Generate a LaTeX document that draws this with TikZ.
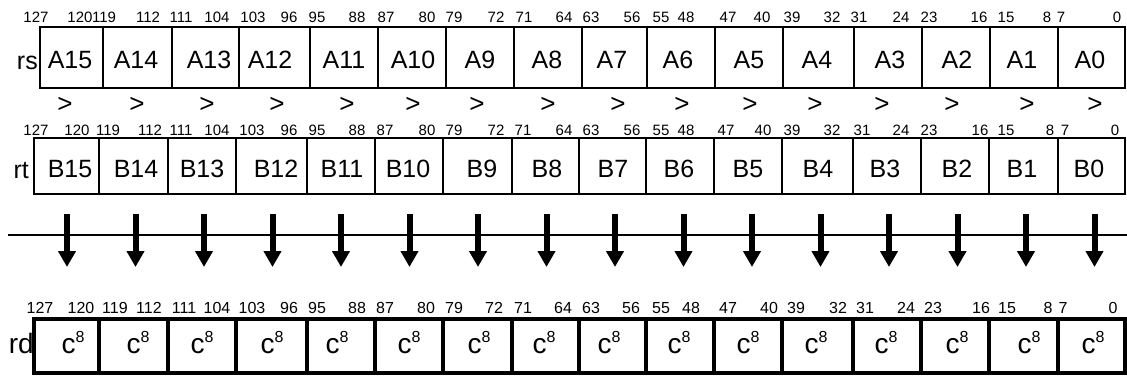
\documentclass[tikz,border=0pt]{standalone}
\usepackage{fontspec}
\setmainfont{Liberation Sans}
\usetikzlibrary{arrows.meta}
\begin{document}
\begin{tikzpicture}[x=1pt,y=-1pt,
  cell/.style={draw,line width=1.1pt,inner sep=0pt,outer sep=0pt},
  rdcell/.style={draw,line width=3.2pt,inner sep=0pt,outer sep=0pt},
  big/.style={font=\fontsize{25}{25}\selectfont,inner sep=0pt,anchor=base},
  cbig/.style={font=\fontsize{28}{28}\selectfont,inner sep=0pt,anchor=base},
  gtsign/.style={font=\fontsize{26}{26}\selectfont,inner sep=0pt,anchor=base},
  regname/.style={font=\fontsize{25}{25}\selectfont,inner sep=0pt,anchor=base east},
  rdname/.style={font=\fontsize{28}{28}\selectfont,inner sep=0pt,anchor=base east},
  bitnum/.style={font=\fontsize{15}{15}\selectfont,inner sep=0pt,anchor=base},
  rdnum/.style={font=\fontsize{16}{16}\selectfont,inner sep=0pt,anchor=base},
  busline/.style={line width=1.6pt},
  downarrow/.style={line width=6pt,-{Triangle[width=17pt,length=16pt]}}]
\useasboundingbox (0,0) rectangle (1127,376);

% ---------- rs row ----------
\foreach \l/\r/\t/\tx [count=\k from 0] in {
  40/103/A15/70,103/172/A14/136,172/239/A13/209,239/310/A12/270,
  310/378/A11/344,378/446/A10/413,446/514/A9/480,514/582/A8/547,
  582/647/A7/612,647/715/A6/678,715/783/A5/749,783/854/A4/817,
  854/922/A3/890,922/990/A2/957,990/1058/A1/1022,1058/1125/A0/1090}{
  \node[cell,minimum width={(\r-\l)*1pt},minimum height=61pt]
    (rs\k) at ({(\l+\r)/2},57.5) {};
  \node[big] (rst\k) at (\tx,68) {\t};
}
\node[regname] (rsname) at (38,69) {rs};
\foreach \n/\x in {127/36,120/80,119/104,112/148,111/181,104/217,103/253,96/289,
  95/317,88/357,87/386,80/427,79/454,72/496,71/524,64/564,63/591,56/632,55/661,
  48/686,47/728,40/762,39/792,32/832,31/859,24/901,23/929,16/979,15/1006,8/1047,
  7/1061,0/1117}{
  \node[bitnum] (rsn\n) at (\x,22) {\n};
}

% ---------- > signs ----------
\foreach \x [count=\i from 0] in {65,137,207,277,347,413,477,548,618,682,750,815,882,952,1027,1095}{
  \node[gtsign] (gt\i) at (\x,112) {>};
}

% ---------- rt row ----------
\foreach \l/\r/\t/\tx [count=\k from 0] in {
  34/99/B15/70,99/168/B14/136,168/236/B13/202,236/307/B12/276,
  307/375/B11/342,375/443/B10/408,443/512/B9/482,512/579/B8/547,
  579/646/B7/613,646/714/B6/679,714/782/B5/748,782/853/B4/818,
  853/921/B3/885,921/989/B2/957,989/1058/B1/1022,1058/1125/B0/1089}{
  \node[cell,minimum width={(\r-\l)*1pt},minimum height=56pt]
    (rt\k) at ({(\l+\r)/2},166) {};
  \node[big] (rtt\k) at (\tx,177) {\t};
}
\node[regname] (rtname) at (29,178) {rt};
\foreach \n/\x in {127/36,120/77,119/108,112/150,111/181,104/217,103/252,96/289,
  95/317,88/357,87/385,80/427,79/454,72/496,71/523,64/564,63/591,56/632,55/661,
  48/686,47/726,40/763,39/792,32/832,31/862,24/901,23/929,16/980,15/1006,8/1050,
  7/1065,0/1115}{
  \node[bitnum] (rtn\n) at (\x,135) {\n};
}

% ---------- bus line and arrows ----------
\coordinate (bus0) at (8,235);
\coordinate (bus1) at (1127,235);
\draw[busline] (bus0) -- (bus1);
\foreach \i in {0,...,15}{
  \pgfmathsetmacro\ax{67+68.5*\i}
  \coordinate (as\i) at (\ax,214);
  \coordinate (ae\i) at (\ax,267);
  \draw[downarrow] (as\i) -- (ae\i);
}

% ---------- rd row ----------
\foreach \l/\r/\tx [count=\k from 0] in {
  34/99/73,99/168/138,168/236/202,236/307/272,
  307/375/337,375/443/409,443/512/479,512/579/544,
  579/646/609,646/714/679,714/782/748,782/853/816,
  853/921/886,921/989/957,989/1058/1029,1058/1125/1093}{
  \node[rdcell,minimum width={(\r-\l)*1pt},minimum height=54pt]
    (rd\k) at ({(\l+\r)/2},346) {};
  \node[cbig] (rdt\k) at (\tx,353) {c\raisebox{10.5pt}{\fontsize{16}{16}\selectfont 8}};
}
\node[rdname] (rdname) at (34,353) {rd};
\foreach \n/\x in {127/40,120/81,119/115,112/149,111/184,104/217,103/252,96/289,
  95/317,88/357,87/385,80/426,79/454,72/494,71/523,64/563,63/591,56/631,55/661,
  48/691,47/728,40/769,39/796,32/838,31/865,24/906,23/933,16/981,15/1007,8/1048,
  7/1063,0/1113}{
  \node[rdnum] (rdn\n) at (\x,313) {\n};
}
\end{tikzpicture}
\end{document}
